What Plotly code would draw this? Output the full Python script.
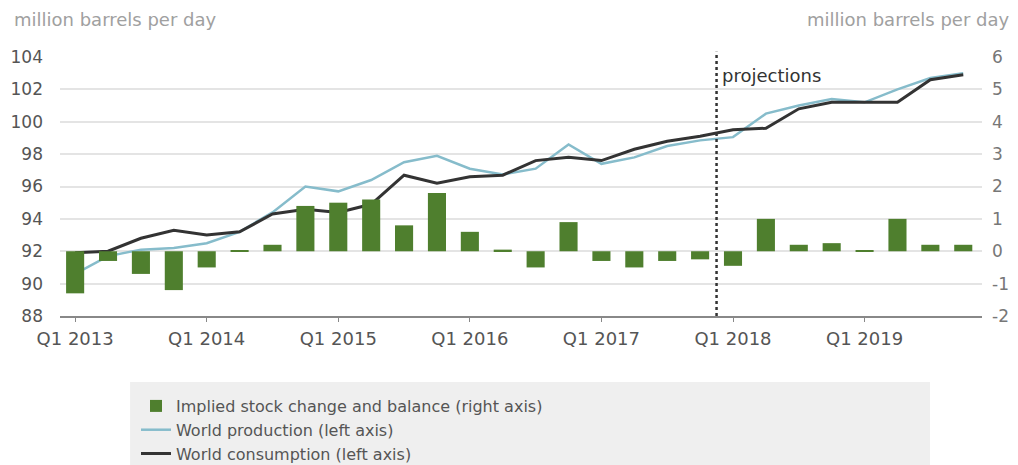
import plotly.graph_objects as go

quarters = [f"Q{q} {y}" for y in range(2013, 2020) for q in range(1, 5)]
tick_labels = ["Q1 2013", "Q1 2014", "Q1 2015", "Q1 2016", "Q1 2017", "Q1 2018", "Q1 2019"]
right_ticks = [-2, -1, 0, 1, 2, 3, 4, 5, 6]
right_tick_text = ["-2", "-1", "0", "1", "2", "3", "4", "5", "6"]

stock_change = [-1.3, -0.3, -0.7, -1.2, -0.5, 0.02, 0.2, 1.4, 1.5, 1.6, 0.8, 1.8,
                0.6, 0.05, -0.5, 0.9, -0.3, -0.5, -0.3, -0.25, -0.45, 1.0, 0.2, 0.25,
                0.03, 1.0, 0.2, 0.2]
production = [90.6, 91.7, 92.1, 92.2, 92.5, 93.2, 94.4, 96.0, 95.7, 96.4, 97.5, 97.9,
              97.1, 96.75, 97.1, 98.6, 97.4, 97.8, 98.5, 98.85, 99.05, 100.5, 101.0, 101.4,
              101.2, 102.0, 102.7, 103.0]
consumption = [91.9, 92.0, 92.8, 93.3, 93.0, 93.2, 94.3, 94.6, 94.4, 94.9, 96.7, 96.2,
               96.6, 96.7, 97.6, 97.8, 97.6, 98.3, 98.8, 99.1, 99.5, 99.6, 100.8, 101.2,
               101.2, 101.2, 102.6, 102.9]

font_family = "DejaVu Sans"
fig = go.Figure()

fig.add_trace(go.Bar(
    x=quarters, y=stock_change, yaxis="y2",
    name="Implied stock change and balance (right axis)",
    marker=dict(color="#4f7f2e", line=dict(width=0)), width=0.55,
))
fig.add_trace(go.Scatter(
    x=quarters, y=production, mode="lines",
    name="World production (left axis)",
    line=dict(color="#86bccb", width=2.5),
))
fig.add_trace(go.Scatter(
    x=quarters, y=consumption, mode="lines",
    name="World consumption (left axis)",
    line=dict(color="#333333", width=3),
))

fig.update_layout(
    width=1018, height=465,
    margin=dict(l=52, r=44, t=49, b=157, autoexpand=False),
    paper_bgcolor="white", plot_bgcolor="white",
    font=dict(family=font_family, size=17, color="#555555"),
    showlegend=True,
    xaxis=dict(
        type="category", range=[-0.46, 27.57],
        tickmode="array", tickvals=tick_labels, ticktext=tick_labels, tickangle=0,
        showgrid=False, showline=True, linecolor="#888888", linewidth=2,
        ticks="outside", ticklen=4, tickcolor="#888888", automargin=False,
        tickfont=dict(size=18, color="#555555"), ticklabelstandoff=1,
    ),
    yaxis=dict(
        range=[88, 104], dtick=2, showgrid=True, gridcolor="#e4e4e4", gridwidth=2,
        zeroline=False, showline=False, tickfont=dict(size=17, color="#555555"),
        ticks="", ticklabelstandoff=16, automargin=False,
    ),
    yaxis2=dict(
        range=[-2, 6], tickmode="array", tickvals=right_ticks, ticktext=right_tick_text,
        overlaying="y", side="right", showgrid=False, automargin=False,
        zeroline=False, showline=False, tickfont=dict(size=17, color="#777777"),
        ticklabelstandoff=9,
    ),
    legend=dict(
        x=0.0824, y=-0.2819, xanchor="left", yanchor="top",
        bgcolor="rgba(0,0,0,0)", font=dict(size=16, color="#555555"),
        tracegroupgap=0, itemwidth=30,
    ),
    shapes=[
        dict(type="rect", xref="paper", yref="paper", x0=0.076, x1=0.9436,
             y0=-0.7, y1=-0.2548, fillcolor="#efefef", line=dict(width=0), layer="below"),
        dict(type="line", xref="x", yref="paper", x0=19.5, x1=19.5, y0=0, y1=1.02,
             line=dict(color="#333333", width=2.5, dash="dot")),
    ],
    annotations=[
        dict(text="projections", xref="x", yref="paper", x=19.6, y=0.93,
             xanchor="left", yanchor="middle", showarrow=False,
             font=dict(size=18, color="#333333")),
        dict(text="million barrels per day", xref="paper", yref="paper", x=-0.052, y=1.145,
             xanchor="left", yanchor="middle", showarrow=False,
             font=dict(size=18, color="#a0a0a0")),
        dict(text="million barrels per day", xref="paper", yref="paper", x=1.031, y=1.145,
             xanchor="right", yanchor="middle", showarrow=False,
             font=dict(size=18, color="#a0a0a0")),
    ],
)

fig.write_html("out.html")
